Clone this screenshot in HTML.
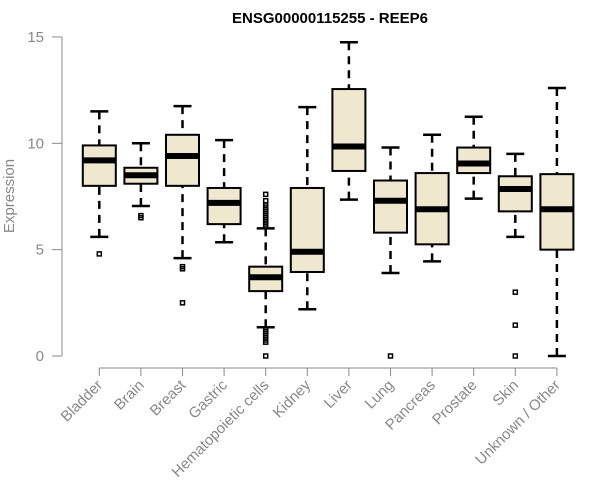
<!DOCTYPE html>
<html><head><meta charset="utf-8"><style>body{margin:0;background:#fff}svg{display:block}</style></head>
<body>
<svg id="c" width="600" height="500" xmlns="http://www.w3.org/2000/svg" font-family="Liberation Sans, sans-serif">
<text x="330" y="23" text-anchor="middle" font-weight="bold" font-size="15">ENSG00000115255 - REEP6</text>
<text transform="translate(14,196) rotate(-90)" text-anchor="middle" font-size="15" fill="#888">Expression</text>
<g id="ax"></g><g id="marks"></g>
</svg>
<script>
const categories=["Bladder","Brain","Breast","Gastric","Hematopoietic cells","Kidney","Liver","Lung","Pancreas","Prostate","Skin","Unknown / Other"];
const whiskerLow=[5.6,7.05,4.6,5.35,1.35,2.2,7.35,3.9,4.45,7.4,5.6,0];
const q1=[8.0,8.1,8.0,6.2,3.05,3.95,8.7,5.8,5.25,8.6,6.8,5.0];
const medians=[9.2,8.5,9.4,7.2,3.7,4.9,9.85,7.3,6.9,9.05,7.85,6.9];
const q3=[9.9,8.85,10.4,7.9,4.2,7.9,12.55,8.25,8.6,9.8,8.45,8.55];
const whiskerHigh=[11.5,10.0,11.75,10.15,6.0,11.7,14.75,9.8,10.4,11.25,9.5,12.6];
const outliers=[[4.8],[6.6,6.5],[4.2,4.1,2.5],[],[6.1,6.2,6.3,6.4,6.5,6.6,6.7,6.8,6.9,7.0,7.1,7.3,7.6,1.25,1.15,1.05,0.95,0.85,0.75,0.65,0],[],[],[0],[],[],[3.0,1.45,0],[]];
const yTicks=[0,5,10,15];
const NS="http://www.w3.org/2000/svg";
const y=v=>356-v*21.27, x=i=>99.3+i*41.6;
function mk(p,t,a){const e=document.createElementNS(NS,t);for(const k in a)e.setAttribute(k,a[k]);p.appendChild(e);return e;}
const ax=document.getElementById('ax'),m=document.getElementById('marks');
let l=mk(ax,'line',{x1:62,x2:62,y1:y(15),y2:y(0),stroke:'#888'});


yTicks.forEach(t=>{mk(ax,'line',{x1:52,x2:62,y1:y(t),y2:y(t),stroke:'#888'});
const tx=mk(ax,'text',{x:44,y:y(t)+5,'text-anchor':'end','font-size':15,fill:'#888'});tx.textContent=t;

});
l=mk(ax,'line',{x1:x(0),x2:x(11),y1:368,y2:368,stroke:'#888'});


categories.forEach((c,i)=>{const cx=x(i);
mk(ax,'line',{x1:cx,x2:cx,y1:368,y2:376,stroke:'#888'});
const tx=mk(ax,'text',{transform:`translate(${cx+4},${386}) rotate(-45)`,'text-anchor':'end','font-size':15,fill:'#888'});tx.textContent=c;


const g=mk(m,'g',{});


mk(g,'line',{x1:cx,x2:cx,y1:y(whiskerHigh[i]),y2:y(q3[i]),stroke:'#000','stroke-width':2.5,'stroke-dasharray':'8,6'});
mk(g,'line',{x1:cx,x2:cx,y1:y(whiskerLow[i]),y2:y(q1[i]),stroke:'#000','stroke-width':2.5,'stroke-dasharray':'8,6'});
mk(g,'line',{x1:cx-9,x2:cx+9,y1:y(whiskerHigh[i]),y2:y(whiskerHigh[i]),stroke:'#000','stroke-width':2.5});
mk(g,'line',{x1:cx-9,x2:cx+9,y1:y(whiskerLow[i]),y2:y(whiskerLow[i]),stroke:'#000','stroke-width':2.5});
mk(g,'rect',{x:cx-16.5,y:y(q3[i]),width:33,height:y(q1[i])-y(q3[i]),fill:'#efe8cf',stroke:'#000','stroke-width':2});
mk(g,'line',{x1:cx-16.5,x2:cx+16.5,y1:y(medians[i]),y2:y(medians[i]),stroke:'#000','stroke-width':6});
outliers[i].forEach(o=>mk(g,'rect',{x:cx-2,y:y(o)-2,width:4,height:4,fill:'none',stroke:'#000','stroke-width':1.5}));
});
</script>
</body></html>
